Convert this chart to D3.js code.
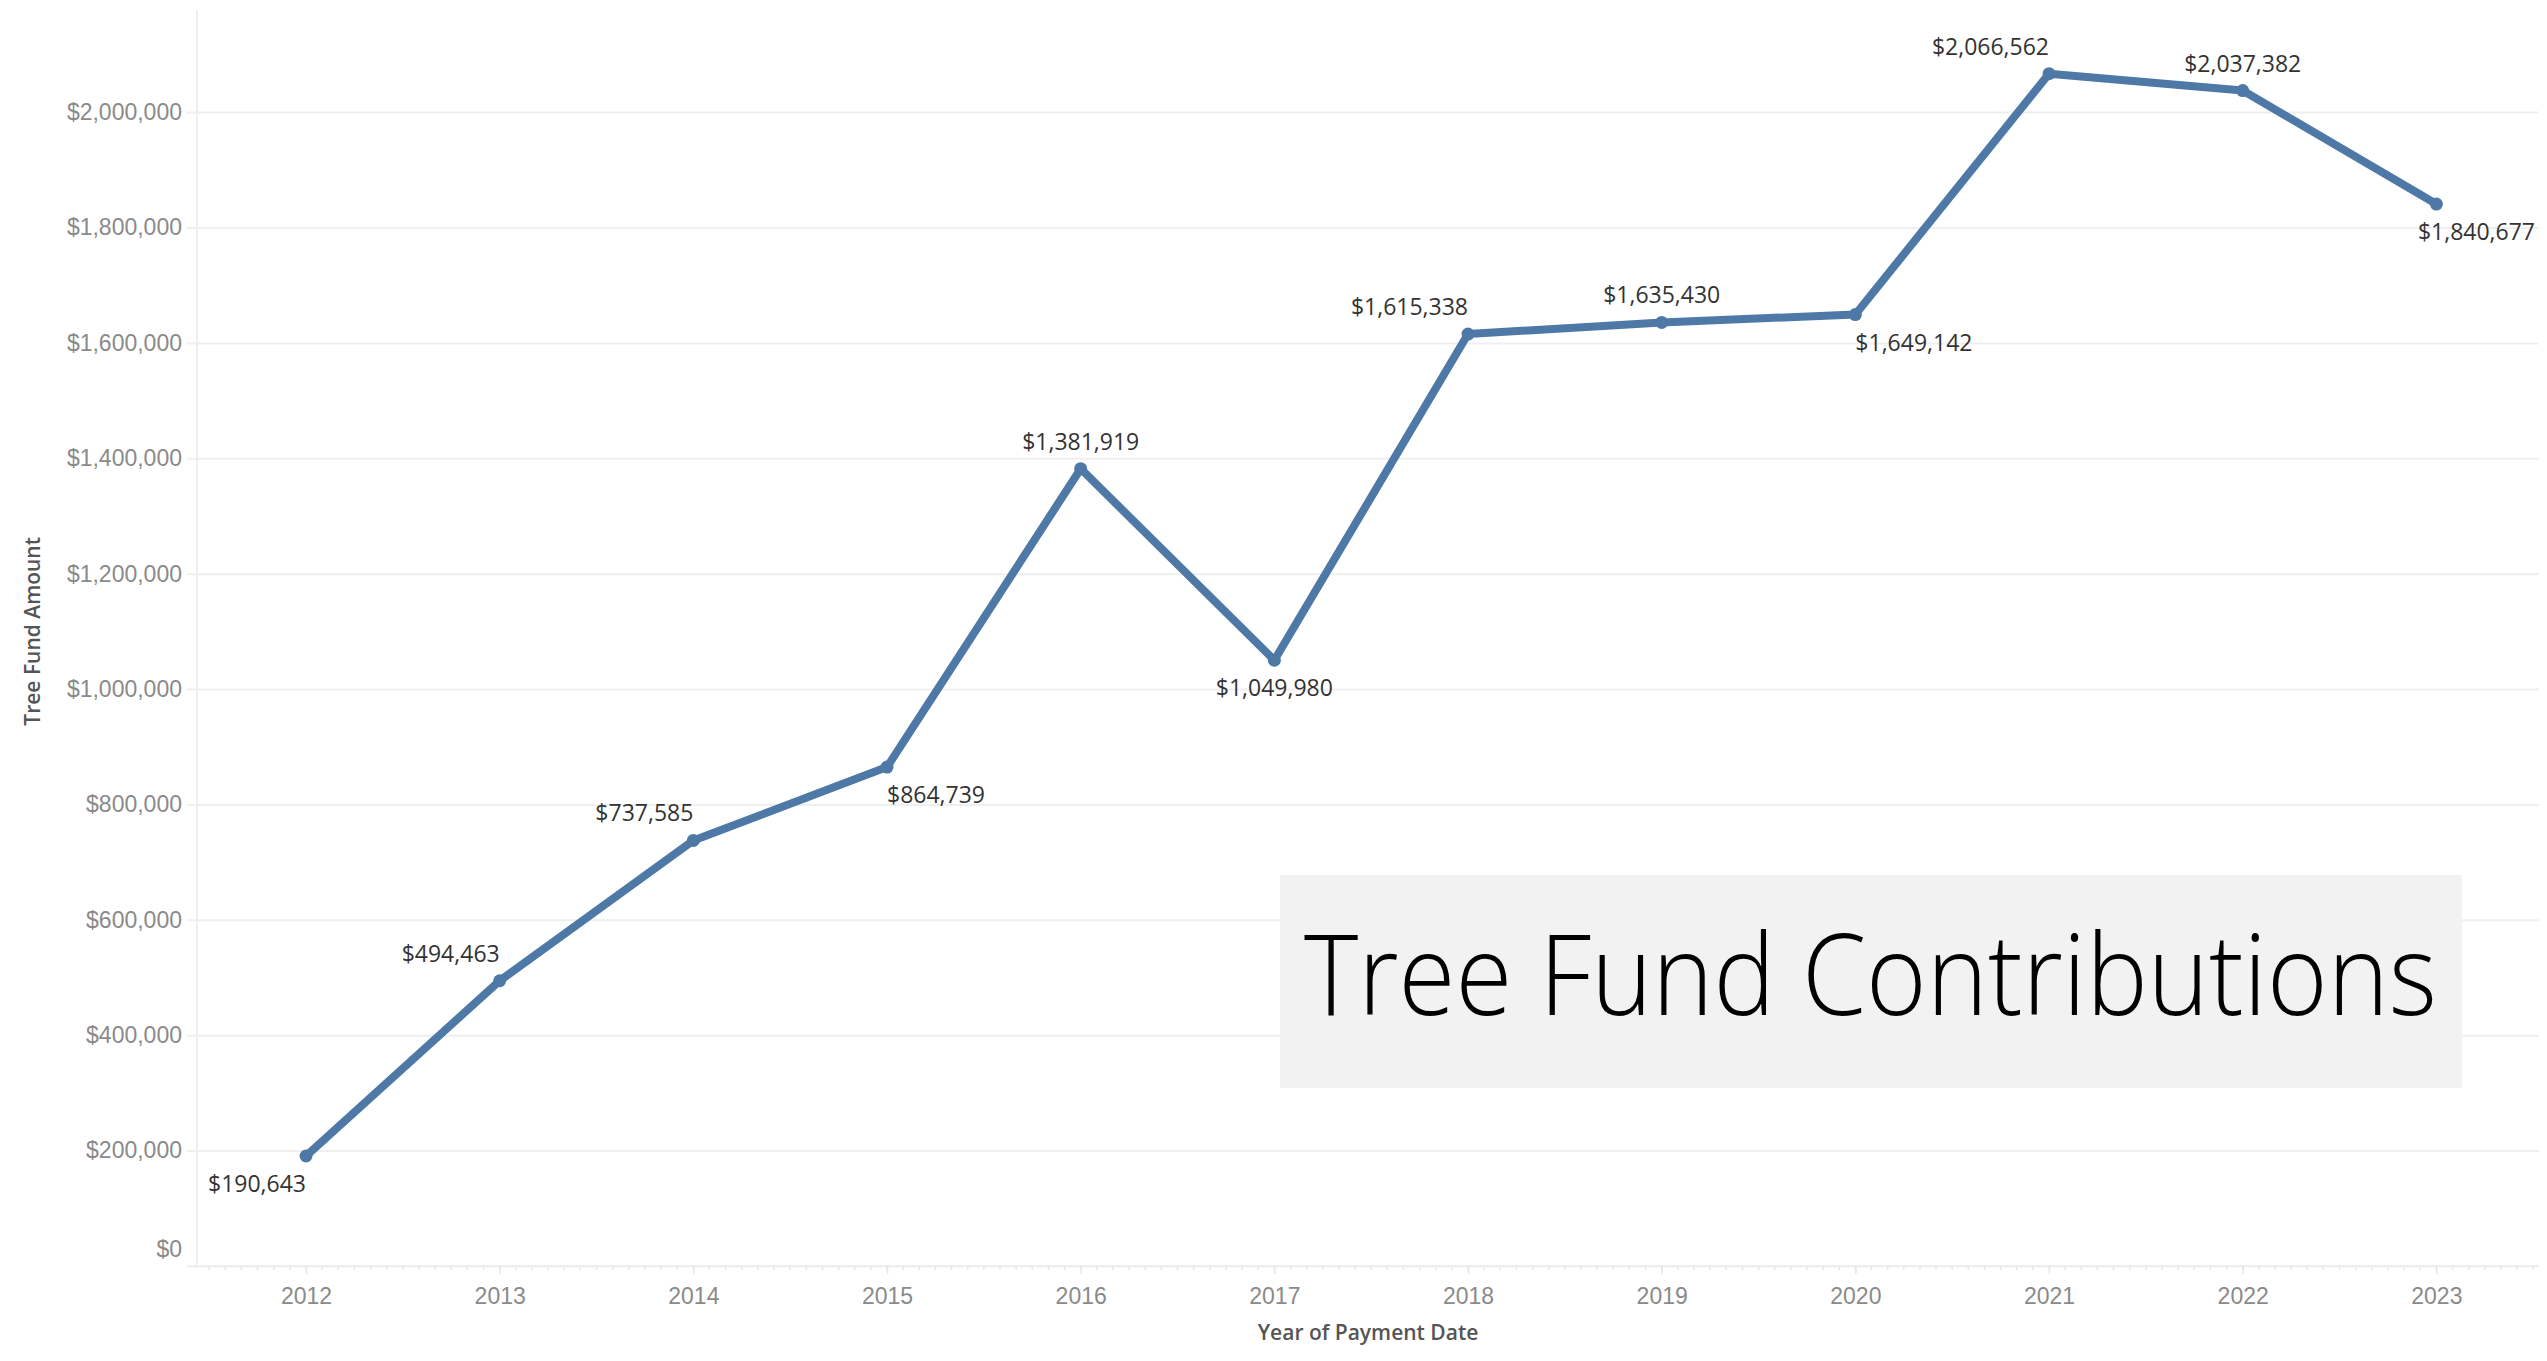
<!DOCTYPE html>
<html>
<head>
<meta charset="utf-8">
<script src="https://cdn.jsdelivr.net/npm/d3@7"></script>
<style>
  body { margin: 0; background: #fff; }
  svg { display: block; font-family: "Open Sans", sans-serif; }
</style>
</head>
<body>
<div id="chart"></div>
<script>
// Data
var years = [2012, 2013, 2014, 2015, 2016, 2017, 2018, 2019, 2020, 2021, 2022, 2023];
var amounts = [190643, 494463, 737585, 864739, 1381919, 1049980, 1615338, 1635430, 1649142, 2066562, 2037382, 1840677];
// where each data label sits: above/below the point, and how it's aligned
var labelSide = ["below", "above", "above", "below", "above", "below", "above", "above", "below", "above", "above", "below"];
var labelAlign = ["end", "end", "end", "start", "middle", "middle", "end", "middle", "start", "end", "middle", "edge"];
var yTicks = [0, 200000, 400000, 600000, 800000, 1000000, 1200000, 1400000, 1600000, 1800000, 2000000];
var chartTitle = "Tree Fund Contributions";

var lineChart = {
    margin: { top: 10, right: 8, bottom: 95, left: 197 },
    get width() { return 2547 - this.margin.left - this.margin.right; },
    get height() { return 1361 - this.margin.top - this.margin.bottom; },
    blue: "#4e79a7",

    setupSVG: function() {
        this.root = d3.select("#chart").append("svg")
            .attr("width", 2547)
            .attr("height", 1361);
        this.svg = this.root.append("g")
            .attr("transform", "translate(" + this.margin.left + "," + this.margin.top + ")");

        // continuous year axis, padded like Tableau does
        this.x = d3.scaleLinear().domain([2011.437, 2023.53]).range([0, this.width]);
        this.y = d3.scaleLinear().domain([0, 2177000]).range([this.height, 0]);
    },

    drawAxes: function() {
        var self = this;
        var fmt = d3.format("$,.0f");

        // horizontal gridlines + y labels
        var yAxis = d3.axisLeft(this.y)
            .tickValues(yTicks)
            .tickSize(-this.width)
            .tickPadding(15)
            .tickFormat(fmt);
        var gy = this.svg.append("g").attr("class", "y-axis").call(yAxis);
        gy.select(".domain").remove();
        gy.selectAll(".tick line")
            .attr("x1", -10)
            .attr("stroke", "#efefef")
            .attr("stroke-width", 2);
        gy.selectAll(".tick text")
            .attr("fill", "#8a8a8a")
            .style("font-size", "23px");
        // Tableau keeps the $0 label inside the pane
        gy.selectAll(".tick text").filter(d => d === 0).attr("dy", "-0.4em");

        // left axis line
        this.svg.append("line")
            .attr("x1", 0).attr("x2", 0)
            .attr("y1", 0).attr("y2", this.height)
            .attr("stroke", "#efefef")
            .attr("stroke-width", 2);

        // monthly minor ticks
        var d = this.x.domain();
        var months = d3.range(Math.ceil(d[0] * 12), Math.floor(d[1] * 12) + 1).map(m => m / 12);
        this.svg.append("g").attr("class", "minor-ticks")
            .selectAll("line").data(months).enter().append("line")
            .attr("x1", m => self.x(m)).attr("x2", m => self.x(m))
            .attr("y1", this.height).attr("y2", this.height + 4)
            .attr("stroke", "#e6e6e6")
            .attr("stroke-width", 1.5);

        var xAxis = d3.axisBottom(this.x)
            .tickValues(years)
            .tickSize(8)
            .tickPadding(14)
            .tickFormat(d3.format("d"));
        var gx = this.svg.append("g").attr("class", "x-axis")
            .attr("transform", "translate(0," + this.height + ")")
            .call(xAxis);
        gx.select(".domain")
            .attr("d", "M-10,0H" + this.width)
            .attr("stroke", "#efefef")
            .attr("stroke-width", 2);
        gx.selectAll(".tick line").attr("stroke", "#e6e6e6").attr("stroke-width", 1.5);
        gx.selectAll(".tick text")
            .attr("fill", "#8a8a8a")
            .style("font-size", "23px");

        // axis titles
        this.svg.append("text")
            .attr("x", this.width / 2)
            .attr("y", this.height + 74)
            .attr("text-anchor", "middle")
            .attr("fill", "#555")
            .style("font-size", "21px")
            .style("font-weight", 600)
            .text("Year of Payment Date");

        this.svg.append("text")
            .attr("transform", "rotate(-90)")
            .attr("x", -(this.y(1100000)))
            .attr("y", -this.margin.left + 32)
            .attr("dominant-baseline", "central")
            .attr("text-anchor", "middle")
            .attr("fill", "#555")
            .style("font-size", "21px")
            .style("font-weight", 600)
            .text("Tree Fund Amount");
    },

    drawTitleBox: function() {
        var g = this.root.append("g").attr("class", "title-box");
        g.append("rect")
            .attr("x", 1280).attr("y", 875)
            .attr("width", 1182).attr("height", 213)
            .attr("fill", "#f2f2f2");
        g.append("text")
            .attr("x", 1304).attr("y", 1015)
            .attr("textLength", 1133)
            .attr("lengthAdjust", "spacingAndGlyphs")
            .attr("fill", "#000")
            .style("font-size", "113px")
            .style("font-weight", 300)
            .text(chartTitle);
    },

    drawLine: function() {
        var self = this;
        var data = years.map((yr, i) => ({ year: yr, amount: amounts[i], side: labelSide[i], align: labelAlign[i] }));
        var fmt = d3.format("$,.0f");

        var line = d3.line()
            .x(d => self.x(d.year))
            .y(d => self.y(d.amount));

        this.svg.append("path")
            .datum(data)
            .attr("fill", "none")
            .attr("stroke", this.blue)
            .attr("stroke-width", 8)
            .attr("stroke-linejoin", "round")
            .attr("stroke-linecap", "round")
            .attr("d", line);

        this.svg.selectAll(".point")
            .data(data).enter().append("circle")
            .attr("class", "point")
            .attr("cx", d => self.x(d.year))
            .attr("cy", d => self.y(d.amount))
            .attr("r", 6.5)
            .attr("fill", this.blue);

        this.svg.selectAll(".data-label")
            .data(data).enter().append("text")
            .attr("class", "data-label")
            .attr("x", d => d.align === "edge" ? self.width - 4 : self.x(d.year))
            .attr("y", d => self.y(d.amount) + (d.side === "above" ? -28 : 27))
            .attr("dominant-baseline", "central")
            .attr("text-anchor", d => d.align === "edge" ? "end" : d.align)
            .attr("fill", "#333")
            .style("font-size", "23px")
            .text(d => fmt(d.amount));
    },

    init: function() {
        this.setupSVG();
        this.drawAxes();
        this.drawTitleBox();
        this.drawLine();
    }
};

lineChart.init();
</script>
</body>
</html>
